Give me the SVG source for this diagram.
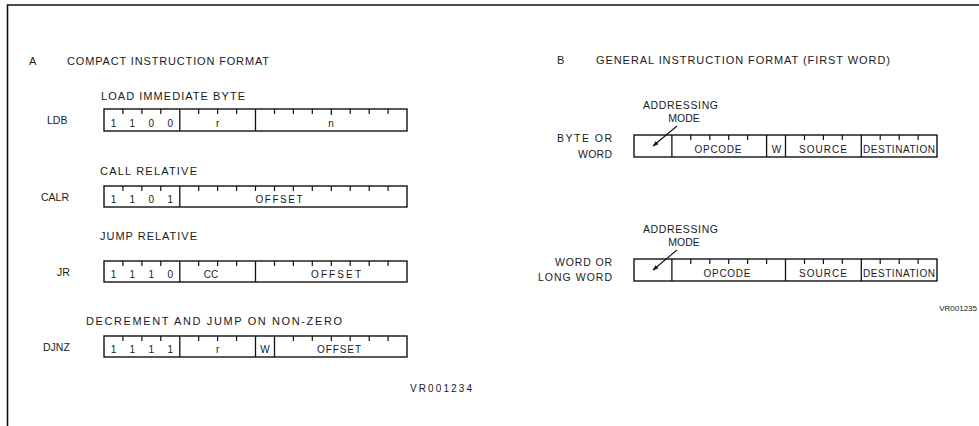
<svg xmlns="http://www.w3.org/2000/svg" width="979" height="426" viewBox="0 0 979 426">
<defs>
<style>
text{font-family:"Liberation Sans",Arial,sans-serif;fill:#1a1a1a;}
.t{font-size:11px;}
.l{font-size:10.5px;}
.f{font-size:10px;}
.m{text-anchor:middle;}
.box{fill:none;stroke:#111;stroke-width:1.4;}
.div{stroke:#111;stroke-width:1.3;}
.tk{stroke:#111;stroke-width:1.2;}
.frame{stroke:#111;stroke-width:1.6;fill:none;}
.conn{stroke:#111;stroke-width:1.1;fill:none;}
</style>
<marker id="ah" viewBox="0 0 10 10" refX="9" refY="5" markerWidth="6" markerHeight="6" orient="auto" markerUnits="userSpaceOnUse">
<path d="M0,1.5 L10,5 L0,8.5 Z" fill="#111"/>
</marker>
</defs>
<rect width="979" height="426" fill="#fff"/>
<path class="frame" d="M7.5,426 V5 H979"/>

<g id="sectionA-title">
<text class="t" x="29" y="65">A</text>
<text class="t" x="67" y="65" textLength="202" lengthAdjust="spacing">COMPACT INSTRUCTION FORMAT</text>
</g>

<g id="LDB">
<text class="t" x="101" y="100" textLength="144" lengthAdjust="spacing">LOAD IMMEDIATE BYTE</text>
<text class="l" x="47" y="124">LDB</text>
<rect class="box" x="104" y="109" width="303" height="22"/>
<path class="div" d="M179.8,109V131M255.5,109V131"/>
<path class="tk" d="M122.9,109v5M141.9,109v5M160.8,109v5M198.7,109v5M217.6,109v5M236.6,109v5M274.5,109v5M293.4,109v5M312.3,109v5M331.3,109v6M350.2,109v5M369.2,109v5M388.1,109v5"/>
<text class="f m" x="113.5" y="127">1</text>
<text class="f m" x="132.4" y="127">1</text>
<text class="f m" x="151.3" y="127">0</text>
<text class="f m" x="170.2" y="127">0</text>
<text class="f m" x="217.7" y="127">r</text>
<text class="f m" x="331" y="127">n</text>
</g>

<g id="CALR">
<text class="t" x="100" y="175" textLength="97" lengthAdjust="spacing">CALL RELATIVE</text>
<text class="l" x="41" y="200.5">CALR</text>
<rect class="box" x="104" y="186" width="303" height="21"/>
<path class="div" d="M179.8,186V207"/>
<path class="tk" d="M122.9,186v5M141.9,186v5M160.8,186v5M198.7,186v5M217.6,186v5M236.6,186v5M255.5,186v5M274.5,186v5M293.4,186v5M312.3,186v5M331.3,186v5M350.2,186v5M369.2,186v5M388.1,186v5"/>
<text class="f m" x="113.5" y="203">1</text>
<text class="f m" x="132.4" y="203">1</text>
<text class="f m" x="151.3" y="203">0</text>
<text class="f m" x="170.2" y="203">1</text>
<text class="f m" x="279" y="203" textLength="47" lengthAdjust="spacing">OFFSET</text>
</g>

<g id="JR">
<text class="t" x="100" y="240" textLength="97" lengthAdjust="spacing">JUMP RELATIVE</text>
<text class="l" x="57" y="275.5">JR</text>
<rect class="box" x="104" y="261" width="303" height="21"/>
<path class="div" d="M179.8,261V282M255.5,261V282"/>
<path class="tk" d="M122.9,261v5M141.9,261v5M160.8,261v5M198.7,261v5M217.6,261v5M236.6,261v5M274.5,261v5M293.4,261v5M312.3,261v5M331.3,261v5M350.2,261v5M369.2,261v5M388.1,261v5"/>
<text class="f m" x="113.5" y="278">1</text>
<text class="f m" x="132.4" y="278">1</text>
<text class="f m" x="151.3" y="278">1</text>
<text class="f m" x="170.2" y="278">0</text>
<text class="f m" x="211" y="278">CC</text>
<text class="f m" x="336" y="278" textLength="50" lengthAdjust="spacing">OFFSET</text>
</g>

<g id="DJNZ">
<text class="t" x="86" y="325" textLength="256" lengthAdjust="spacing">DECREMENT AND JUMP ON NON-ZERO</text>
<text class="l" x="43" y="350.5">DJNZ</text>
<rect class="box" x="104" y="336" width="303" height="21"/>
<path class="div" d="M179.8,336V357M255.5,336V357M274.5,336V357"/>
<path class="tk" d="M122.9,336v5M141.9,336v5M160.8,336v5M198.7,336v5M217.6,336v5M236.6,336v5M293.4,336v5M312.3,336v5M331.3,336v5M350.2,336v5M369.2,336v5M388.1,336v5"/>
<text class="f m" x="113.5" y="353">1</text>
<text class="f m" x="132.4" y="353">1</text>
<text class="f m" x="151.3" y="353">1</text>
<text class="f m" x="170.2" y="353">1</text>
<text class="f m" x="217.7" y="353">r</text>
<text class="f m" x="265" y="353">W</text>
<text class="f m" x="339" y="353" textLength="44" lengthAdjust="spacing">OFFSET</text>
</g>

<text class="f" x="410" y="392" textLength="62" lengthAdjust="spacing">VR001234</text>

<g id="sectionB-title">
<text class="t" x="557" y="64">B</text>
<text class="t" x="596" y="64" textLength="294" lengthAdjust="spacing">GENERAL INSTRUCTION FORMAT (FIRST WORD)</text>
</g>

<g id="byte-or-word">
<text class="l" x="643" y="109" textLength="75" lengthAdjust="spacing">ADDRESSING</text>
<text class="l m" x="684" y="121.5">MODE</text>
<text class="l" x="557" y="142" textLength="55" lengthAdjust="spacing">BYTE OR</text>
<text class="l" x="578" y="157.5" textLength="34" lengthAdjust="spacing">WORD</text>
<rect class="box" x="634" y="135" width="303" height="22"/>
<path class="div" d="M671.9,135V157M766.6,135V157M785.5,135V157M861.3,135V157"/>
<path class="tk" d="M690.8,135v5M709.8,135v5M728.7,135v5M747.6,135v5M804.5,135v5M823.4,135v5M842.3,135v5M880.2,135v5M899.2,135v5M918.1,135v5"/>
<text class="f m" x="718" y="153" textLength="47" lengthAdjust="spacing">OPCODE</text>
<text class="f m" x="776.5" y="153">W</text>
<text class="f" x="799" y="153" textLength="48" lengthAdjust="spacing">SOURCE</text>
<text class="f" x="863" y="153" textLength="72" lengthAdjust="spacing">DESTINATION</text>
</g>

<g id="word-or-long-word">
<text class="l" x="643" y="233" textLength="75" lengthAdjust="spacing">ADDRESSING</text>
<text class="l m" x="684" y="245.5">MODE</text>
<text class="l" x="555" y="266" textLength="57" lengthAdjust="spacing">WORD OR</text>
<text class="l" x="538" y="281" textLength="74" lengthAdjust="spacing">LONG WORD</text>
<rect class="box" x="634" y="259" width="303" height="22"/>
<path class="div" d="M671.9,259V281M785.5,259V281M861.3,259V281"/>
<path class="tk" d="M690.8,259v5M709.8,259v5M728.7,259v5M747.6,259v5M766.6,259v5M804.5,259v5M823.4,259v5M842.3,259v5M880.2,259v5M899.2,259v5M918.1,259v5"/>
<text class="f m" x="727" y="277" textLength="47" lengthAdjust="spacing">OPCODE</text>
<text class="f" x="799" y="277" textLength="48" lengthAdjust="spacing">SOURCE</text>
<text class="f" x="863" y="277" textLength="72" lengthAdjust="spacing">DESTINATION</text>
</g>

<text style="font-size:8px;text-anchor:end" x="977" y="311">VR001235</text>

<g id="connectors">
<line class="conn" x1="677" y1="126" x2="653" y2="146" marker-end="url(#ah)"/>
<line class="conn" x1="677" y1="250" x2="653" y2="270" marker-end="url(#ah)"/>
</g>
</svg>
